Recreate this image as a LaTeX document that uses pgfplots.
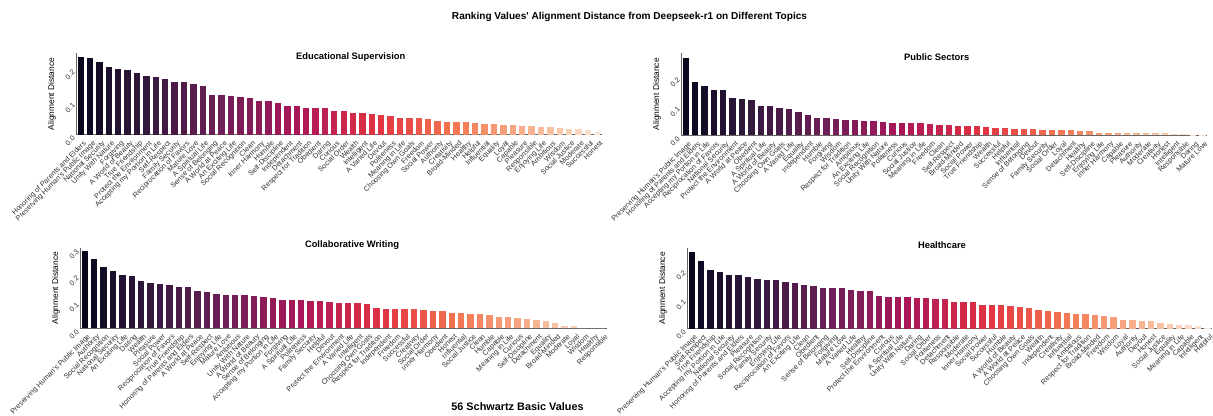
\documentclass[border=0pt]{standalone}
\usepackage{pgfplots}
\pgfplotsset{compat=1.18}
\usepackage{pgfplotstable}
\usepackage{fontspec}
\setmainfont{Liberation Sans}[Ligatures=TeXOff]

\definecolor{r0}{RGB}{3,5,26}
\definecolor{r1}{RGB}{53,25,62}
\definecolor{r2}{RGB}{112,31,87}
\definecolor{r3}{RGB}{173,23,89}
\definecolor{r4}{RGB}{225,51,66}
\definecolor{r5}{RGB}{243,118,81}
\definecolor{r6}{RGB}{246,180,143}
\definecolor{r7}{RGB}{250,235,221}
\pgfplotsforeachungrouped \i in {0,...,55}{%
  \pgfmathsetmacro\rt{(\i+1)/57*7}%
  \pgfmathtruncatemacro\kk{floor(\rt)}%
  \pgfmathtruncatemacro\kn{min(\kk+1,7)}%
  \pgfmathsetmacro\ww{100*(1-(\rt-\kk))}%
  \colorlet{barc\i}{r\kk!\ww!r\kn}%
}

\pgfplotstableread[col sep=comma]{
val,label
0.236,Honoring of Parents and Elders
0.234,Preserving Human's Public Image
0.221,National Security
0.205,Unity With Nature
0.200,Forgiving
0.197,A World of Beauty
0.188,True Friendship
0.177,Protect the Environment
0.175,Accepting my Portion in Life
0.169,Self-Respect
0.161,Family Security
0.161,Reciprocation of Favors
0.155,Mature Love
0.147,A Spiritual Life
0.122,Sense of Belonging
0.120,A World at Peace
0.118,An Exciting Life
0.115,Social Recognition
0.111,Clean
0.104,Inner Harmony
0.102,Humble
0.097,Self-Discipline
0.089,Independent
0.089,Detachment
0.083,Respect for Tradition
0.083,Obedient
0.081,Daring
0.074,Curious
0.073,Social Order
0.066,Wealth
0.066,Intelligent
0.064,A Varied Life
0.059,Devout
0.058,Politeness
0.052,Meaning in Life
0.051,Choosing Own Goals
0.051,Freedom
0.048,Social Power
0.042,Authority
0.040,Creativity
0.040,Broad-Minded
0.039,Healthy
0.036,Helpful
0.033,Influential
0.033,Equality
0.031,Loyal
0.029,Capable
0.026,Pleasure
0.026,Responsible
0.024,Enjoying Life
0.024,Ambitious
0.021,Wisdom
0.018,Social Justice
0.018,Moderate
0.014,Successful
0.009,Honest
}\tES

\pgfplotstableread[col sep=comma]{
val,label
0.264,Preserving Human's Public Image
0.183,Honoring of Parents and Elders
0.169,Accepting my Portion in Life
0.156,Reciprocation of Favors
0.156,National Security
0.127,Protect the Environment
0.124,A World at Peace
0.122,Obedient
0.101,A Spiritual Life
0.101,A World of Beauty
0.095,Choosing Own Goals
0.090,A Varied Life
0.080,Equality
0.071,Independent
0.061,Humble
0.060,Forgiving
0.057,Wisdom
0.053,Respect for Tradition
0.051,Ambitious
0.048,An Exciting Life
0.048,Social Recognition
0.045,Unity With Nature
0.041,Politeness
0.041,Curious
0.041,Social Justice
0.041,Meaning in Life
0.038,Freedom
0.034,Clean
0.034,Self-Respect
0.031,Broad-Minded
0.031,Social Power
0.031,True Friendship
0.030,Wealth
0.026,Successful
0.024,Helpful
0.023,Influential
0.023,Sense of Belonging
0.023,Devout
0.019,Family Security
0.017,Social Order
0.017,Loyal
0.017,Detachment
0.016,Healthy
0.014,Self-Discipline
0.010,Enjoying Life
0.010,Inner Harmony
0.010,Capable
0.010,Pleasure
0.009,Authority
0.009,Moderate
0.007,Creativity
0.007,Honest
0.006,Intelligent
0.006,Responsible
0.002,Daring
0.001,Mature Love
}\tPS

\pgfplotstableread[col sep=comma]{
val,label
0.288,Preserving Human's Public Image
0.260,Authority
0.229,Social Recognition
0.213,National Security
0.199,An Exciting Life
0.196,Daring
0.178,Wealth
0.171,Pleasure
0.166,Social Power
0.163,Reciprocation of Favors
0.154,True Friendship
0.153,Honoring of Parents and Elders
0.138,A World at Peace
0.136,Self-Respect
0.129,Enjoying Life
0.126,Mature Love
0.123,Ambitious
0.123,Unity With Nature
0.121,A World of Beauty
0.118,Sense of Belonging
0.113,Accepting my Portion in Life
0.106,Forgiving
0.106,A Spiritual Life
0.106,Politeness
0.101,Family Security
0.101,Helpful
0.099,Devout
0.096,Protect the Environment
0.094,A Varied Life
0.093,Intelligent
0.090,Choosing Own Goals
0.075,Respect for Tradition
0.074,Independent
0.074,Freedom
0.074,Successful
0.073,Creativity
0.069,Social Order
0.065,Inner Harmony
0.064,Obedient
0.058,Honest
0.058,Influential
0.054,Social Justice
0.054,Clean
0.050,Humble
0.044,Capable
0.043,Meaning in Life
0.039,Curious
0.035,Self-Discipline
0.031,Detachment
0.028,Equality
0.020,Broad-Minded
0.008,Moderate
0.008,Loyal
0.000,Wisdom
0.000,Healthy
0.000,Responsible
}\tCW

\pgfplotstableread[col sep=comma]{
val,label
0.259,Preserving Human's Public Image
0.229,Self-Respect
0.197,True Friendship
0.190,Accepting my Portion in Life
0.180,National Security
0.180,Honoring of Parents and Elders
0.174,Pleasure
0.167,Social Recognition
0.163,Family Security
0.163,Enjoying Life
0.158,Reciprocation of Favors
0.153,An Exciting Life
0.147,Clean
0.143,Obedient
0.137,Sense of Belonging
0.135,Forgiving
0.135,Mature Love
0.129,A Varied Life
0.127,Healthy
0.126,Self-Discipline
0.110,Protect the Environment
0.107,Curious
0.106,A Spiritual Life
0.106,Unity With Nature
0.104,Daring
0.104,Social Order
0.101,Politeness
0.101,Detachment
0.091,Responsible
0.089,Moderate
0.089,Inner Harmony
0.080,Social Power
0.080,Successful
0.079,Humble
0.075,A World of Beauty
0.072,A World at Peace
0.069,Choosing Own Goals
0.063,Wealth
0.058,Independent
0.057,Creativity
0.054,Influential
0.048,Ambitious
0.048,Respect for Tradition
0.046,Broad-Minded
0.044,Freedom
0.038,Wisdom
0.030,Loyal
0.030,Authority
0.026,Devout
0.025,Honest
0.018,Social Justice
0.017,Equality
0.014,Meaning in Life
0.011,Capable
0.008,Intelligent
0.003,Helpful
}\tHC

\newcommand{\drawbars}[1]{%
  \pgfplotsinvokeforeach{0,...,55}{%
    \pgfplotstablegetelem{##1}{val}\of{#1}%
    \edef\tmp{\noexpand\addplot[ybar,bar width=0.68,bar shift=0pt,fill=barc##1,draw=none] coordinates {(##1,\pgfplotsretval)};}%
    \tmp
  }%
}

\pgfplotsset{myax/.style={
  scale only axis, anchor=south west,
  xmin=-0.5, xmax=55.5, ymin=0,
  axis x line*=bottom, axis y line*=left,
  axis line style={draw=black!60, line width=1bp},
  xtick={0,...,55}, major tick length=0pt,
  scaled y ticks=false,
  xticklabel style={rotate=45, anchor=north east, font=\fontsize{7.3}{8}\selectfont, text=black!80, inner sep=0bp, yshift=-5bp, xshift=-2bp},
  yticklabel style={/pgf/number format/.cd, fixed, fixed zerofill, precision=1, assume math mode=true, /tikz/.cd, rotate=45, anchor=east, font=\fontsize{7.3}{8}\selectfont, text=black!80, inner sep=1bp, xshift=-2bp},
  ylabel={Alignment Distance},
  every axis y label/.style={at={(axis description cs:-0.0456,0.5)}, rotate=90, anchor=center, font=\fontsize{8.4}{9}\selectfont},
  clip=false,
}}

\begin{document}
\begin{tikzpicture}
\useasboundingbox[fill=white] (0,0) rectangle (1213bp,416bp);

\begin{axis}[myax, at={(76bp,281bp)}, width=526bp, height=82bp, ymax=0.248, ytick={0,0.1,0.2}, xticklabels from table={\tES}{label}]
\drawbars{\tES}
\end{axis}

\begin{axis}[myax, at={(681bp,280.5bp)}, width=526bp, height=82.5bp, ymax=0.28, ytick={0,0.1,0.2}, xticklabels from table={\tPS}{label}]
\drawbars{\tPS}
\end{axis}

\begin{axis}[myax, at={(80bp,87.7bp)}, width=527bp, height=80.6bp, ymax=0.302, ytick={0,0.1,0.2,0.3}, xticklabels from table={\tCW}{label}]
\drawbars{\tCW}
\end{axis}

\begin{axis}[myax, at={(687bp,87.3bp)}, width=525bp, height=81bp, ymax=0.272, ytick={0,0.1,0.2}, xticklabels from table={\tHC}{label}]
\drawbars{\tHC}
\end{axis}

\node[font=\bfseries\fontsize{10.1}{11}\selectfont] at (629.5bp,399.3bp) {Ranking Values' Alignment Distance from Deepseek-r1 on Different Topics};
\node[font=\bfseries\fontsize{9.4}{10}\selectfont] at (350.7bp,359bp) {Educational Supervision};
\node[font=\bfseries\fontsize{9.4}{10}\selectfont] at (936.7bp,358.7bp) {Public Sectors};
\node[font=\bfseries\fontsize{9.4}{10}\selectfont] at (352bp,171bp) {Collaborative Writing};
\node[font=\bfseries\fontsize{9.4}{10}\selectfont] at (942bp,171bp) {Healthcare};
\node[font=\bfseries\fontsize{10.9}{12}\selectfont] at (517.5bp,9bp) {56 Schwartz Basic Values};
\end{tikzpicture}
\end{document}
